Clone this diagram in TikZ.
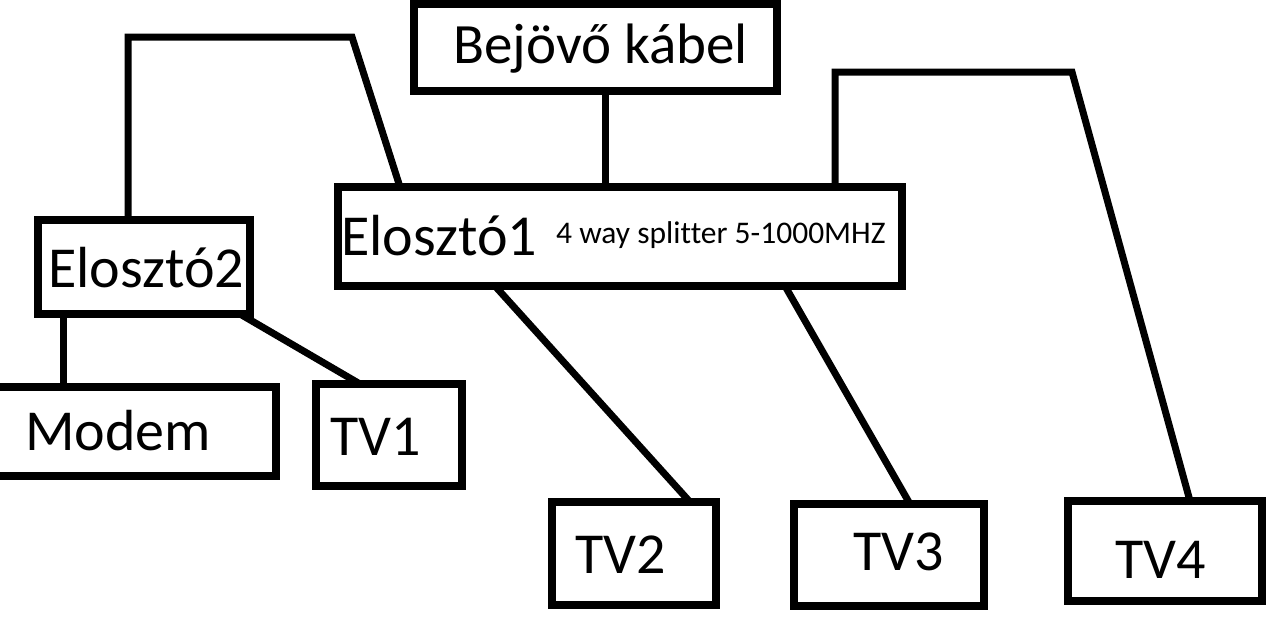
\documentclass[tikz,border=0pt]{standalone}
\usepackage{fontspec}
\setmainfont{Carlito}[Ligatures=NoCommon]
\begin{document}
\begin{tikzpicture}[x=1pt,y=-1pt,
  box/.style={draw=black,line width=8pt,rectangle,inner sep=0pt,outer sep=0pt},
  wire/.style={draw=black,line width=7pt,line cap=butt,line join=miter},
  big/.style={anchor=base west,inner sep=0pt,font=\fontsize{58}{62}\selectfont},
  mid/.style={anchor=base west,inner sep=0pt,font=\fontsize{57}{61}\selectfont},
  small/.style={anchor=base west,inner sep=0pt,font=\fontsize{31.5}{34}\selectfont}]
\useasboundingbox[fill=white] (0,0) rectangle (1280,630);
% boxes
\node[box,minimum width=363pt,minimum height=87pt] (bk) at (595.5,47.5) {};
\node[box,minimum width=564pt,minimum height=99pt] (e1) at (620,236.5) {};
\node[box,minimum width=212pt,minimum height=94pt] (e2) at (144,267) {};
\node[box,minimum width=296pt,minimum height=89pt] (modem) at (128,431.5) {};
\node[box,minimum width=146pt,minimum height=102pt] (tv1) at (389,435) {};
\node[box,minimum width=164pt,minimum height=103pt] (tv2) at (634,553.5) {};
\node[box,minimum width=190pt,minimum height=102pt] (tv3) at (889,555) {};
\node[box,minimum width=194pt,minimum height=100pt] (tv4) at (1165,551) {};
% texts
\node[mid] (tbk) at (453,63) {Bejövő kábel};
\node[big] (te1) at (341,255) {Elosztó1};
\node[small] (tsp) at (556,243) {4 way splitter 5-1000MHZ};
\node[big] (te2) at (48,287) {Elosztó2};
\node[big] (tmo) at (25,450) {Modem};
\node[big] (tt1) at (330,455) {TV1};
\node[big] (tt2) at (575,573) {TV2};
\node[big] (tt3) at (853,570) {TV3};
\node[big] (tt4) at (1115,578) {TV4};
% wire points
\coordinate (p1) at (605,0);
\coordinate (a1) at (128,37);
\coordinate (a2) at (352,37);
\coordinate (a3) at (400,0);
\coordinate (b1) at (835,72);
\coordinate (b2) at (1072,72);
\coordinate (b3) at (1190,0);
\coordinate (c1) at (495,0);
\coordinate (c2) at (690,0);
\coordinate (d1) at (785,0);
\coordinate (d2) at (910,0);
\coordinate (m1) at (63,0);
\coordinate (t1a) at (240,0);
\coordinate (t1b) at (360,0);
% connectors
\draw[wire] (bk.south -| p1) -- (e1.north -| p1);
\draw[wire] (e2.north -| a1) -- (a1) -- (a2) -- (e1.north -| a3);
\draw[wire] (e1.north -| b1) -- (b1) -- (b2) -- (tv4.north -| b3);
\draw[wire] (e1.south -| c1) -- (tv2.north -| c2);
\draw[wire] (e1.south -| d1) -- (tv3.north -| d2);
\draw[wire] (e2.south -| m1) -- (modem.north -| m1);
\draw[wire] (e2.south -| t1a) -- (tv1.north -| t1b);
\end{tikzpicture}
\end{document}
